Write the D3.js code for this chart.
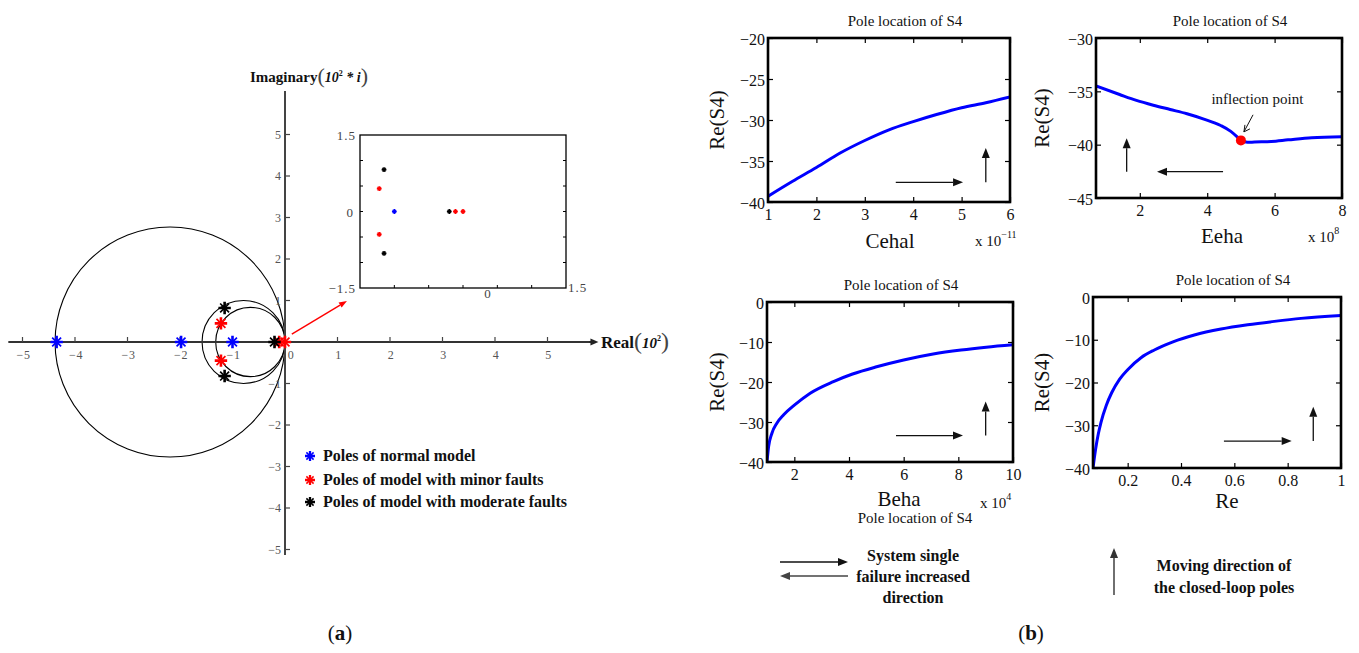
<!DOCTYPE html>
<html>
<head>
<meta charset="utf-8">
<script src="https://cdn.jsdelivr.net/npm/d3@7"></script>
<style>
  body { margin: 0; background: #fff; }
  svg { display: block; }
</style>
</head>
<body>
<script>
// ---- panel (a): pole map, values in units of 10^2 ----
const poleNormal   = [[-4.35, 0], [-1.98, 0], [-1.0, 0]];
const poleMinor    = [[-1.22, 0.45], [-1.22, -0.45], [-0.11, 0], [0, 0]];
const poleModerate = [[-1.15, 0.82], [-1.15, -0.82], [-0.2, 0]];
const circleCenters = [-2.19, -0.79, -0.66];   // on the real axis
const circleRadii   = [2.19, 0.79, 0.66];
const mainTicks  = [-5, -4, -3, -2, -1, 1, 2, 3, 4, 5];
const insetTicks = [-1, -0.5, 0, 0.5, 1];
const legendLabels = ["Poles of normal model", "Poles of model with minor faults", "Poles of model with moderate faults"];
const legendColors = ["#0000ff", "#ff0000", "#000000"];

// ---- panel (b): Re(S4) against each parameter ----
const cehalX = [1, 1.5, 2, 2.5, 3, 3.5, 4, 4.5, 5, 5.5, 6];
const cehalY = [-39.3, -37.5, -35.8, -34.0, -32.5, -31.2, -30.2, -29.3, -28.5, -27.9, -27.2];
const eehaX = [0.7, 1.4, 1.9, 2.4, 2.9, 3.4, 3.9, 4.4, 4.7, 4.9, 5.0, 5.2, 5.4, 5.9, 6.4, 7.1, 8.0];
const eehaY = [-34.5, -35.3, -35.85, -36.3, -36.7, -37.1, -37.6, -38.2, -38.75, -39.3, -39.6, -39.78, -39.75, -39.7, -39.55, -39.35, -39.25];
const inflection = [5.0, -39.6];
const behaX = [1, 1.06, 1.18, 1.36, 1.61, 2, 2.58, 3.43, 4.13, 5.01, 6, 7.08, 8.1, 9.02, 10];
const behaY = [-40, -36.1, -32.8, -30.3, -28.2, -25.8, -22.8, -19.9, -18.0, -16.2, -14.5, -13.0, -12.0, -11.3, -10.7];
const reX = [0.07, 0.08, 0.09, 0.10, 0.12, 0.14, 0.17, 0.20, 0.25, 0.30, 0.37, 0.45, 0.55, 0.65, 0.75, 0.85, 1.0];
const reY = [-40, -35.5, -32.0, -29.3, -25.3, -22.4, -19.2, -17.0, -14.2, -12.4, -10.5, -8.9, -7.5, -6.5, -5.7, -5.0, -4.3];

const W = 1359, H = 653;
const serif = "'Liberation Serif', 'Times New Roman', serif";

const svg = d3.select("body").append("svg")
  .attr("width", W).attr("height", H)
  .style("font-family", serif);

const defs = svg.append("defs");

function plusPath(s) {
  return `M${-s},0H${s}M0,${-s}V${s}`;
}
function crossPath(s) {
  const d = s * 0.72;
  return `M${-d},${-d}L${d},${d}M${-d},${d}L${d},${-d}`;
}
// asterisk marker: bold plus with thinner diagonals
function drawStar(g, data, sx, sy, color, s, w) {
  const m = g.append("g");
  m.selectAll(null).data(data).join("path")
    .attr("d", crossPath(s))
    .attr("transform", d => `translate(${sx(d[0])},${sy(d[1])})`)
    .attr("stroke", color).attr("stroke-width", w * 0.65).attr("fill", "none");
  m.selectAll(null).data(data).join("path")
    .attr("d", plusPath(s))
    .attr("transform", d => `translate(${sx(d[0])},${sy(d[1])})`)
    .attr("stroke", color).attr("stroke-width", w).attr("fill", "none");
}

// filled-head arrow
function arrow(g, x1, y1, x2, y2, color, len = 10, half = 4, width = 1.3) {
  const a = Math.atan2(y2 - y1, x2 - x1);
  const bx = x2 - len * Math.cos(a), by = y2 - len * Math.sin(a);
  g.append("line").attr("x1", x1).attr("y1", y1).attr("x2", bx).attr("y2", by)
    .attr("stroke", color).attr("stroke-width", width);
  const px = -Math.sin(a) * half, py = Math.cos(a) * half;
  g.append("path")
    .attr("d", `M${x2},${y2}L${bx + px},${by + py}L${bx - px},${by - py}Z`)
    .attr("fill", color);
}

// ================= (a) =================
const xa = d3.scaleLinear().domain([-5, 5]).range([22.5, 547.5]);
const ya = d3.scaleLinear().domain([-5, 5]).range([549.5, 134.5]);
const ga = svg.append("g");

// circles (drawn as true circles in pixels)
ga.selectAll("circle.loc").data(circleCenters).join("circle")
  .attr("cx", d => xa(d)).attr("cy", ya(0))
  .attr("r", (d, i) => xa(circleRadii[i]) - xa(0))
  .attr("fill", "none").attr("stroke", "#000").attr("stroke-width", 1.1);

// axes
ga.append("line").attr("x1", xa(-5.27)).attr("x2", xa(5.9)).attr("y1", ya(0)).attr("y2", ya(0))
  .attr("stroke", "#333").attr("stroke-width", 2);
arrow(ga, xa(5.8), ya(0), xa(5.97), ya(0), "#222", 8, 3.5, 2);
ga.append("line").attr("x1", xa(0)).attr("x2", xa(0)).attr("y1", ya(6.05)).attr("y2", ya(-5.13))
  .attr("stroke", "#444").attr("stroke-width", 2);

ga.selectAll("line.xt").data(mainTicks).join("line")
  .attr("x1", d => xa(d)).attr("x2", d => xa(d)).attr("y1", ya(0)).attr("y2", ya(0) - 5)
  .attr("stroke", "#444").attr("stroke-width", 1.2);
ga.selectAll("line.yt").data(mainTicks).join("line")
  .attr("x1", xa(0)).attr("x2", xa(0) + 5).attr("y1", d => ya(d)).attr("y2", d => ya(d))
  .attr("stroke", "#444").attr("stroke-width", 1.2);

const fmtA = d3.format("~g");
ga.selectAll("text.xl").data(mainTicks.concat([0])).join("text")
  .attr("x", d => xa(d) + (d === 0 ? 6 : 1)).attr("y", ya(0) + 17)
  .attr("text-anchor", "middle").attr("font-size", 12).attr("fill", "#555")
  .attr("letter-spacing", 0.5)
  .text(d => fmtA(d));
ga.selectAll("text.yl").data(mainTicks).join("text")
  .attr("x", xa(0) - 4).attr("y", d => ya(d) + 4)
  .attr("text-anchor", "end").attr("font-size", 12).attr("fill", "#555")
  .text(d => fmtA(d));

// axis titles
const imag = ga.append("text").attr("x", 250).attr("y", 82).attr("font-size", 15).attr("fill", "#111");
imag.append("tspan").attr("font-weight", "bold").text("Imaginary");
imag.append("tspan").attr("font-size", 22).attr("dy", 1).attr("fill", "#444").text("(");
imag.append("tspan").attr("font-weight", "bold").attr("font-style", "italic").attr("font-size", 14).attr("dy", -1).text("10");
imag.append("tspan").attr("font-weight", "bold").attr("font-size", 8).attr("dy", -6).text("2");
imag.append("tspan").attr("font-weight", "bold").attr("font-style", "italic").attr("font-size", 14).attr("dy", 6).text(" * i");
imag.append("tspan").attr("font-size", 22).attr("dy", 1).attr("fill", "#444").text(")");

const real = ga.append("text").attr("x", 601).attr("y", 348).attr("font-size", 17).attr("fill", "#111");
real.append("tspan").attr("font-weight", "bold").text("Real");
real.append("tspan").attr("font-size", 24).attr("dy", 1).attr("fill", "#444").text("(");
real.append("tspan").attr("font-weight", "bold").attr("font-style", "italic").attr("font-size", 15).attr("dy", -1).text("10");
real.append("tspan").attr("font-weight", "bold").attr("font-size", 8).attr("dy", -7).text("2");
real.append("tspan").attr("font-size", 24).attr("dy", 8).attr("fill", "#444").text(")");

// poles
const poleSets = [poleNormal, poleMinor, poleModerate];
poleSets.forEach((set, i) => drawStar(ga, set, xa, ya, legendColors[i], 6.2, 2.6));

// red pointer to the inset
arrow(ga, xa(0.13), ya(0.19), xa(1.18), ya(0.99), "#ff0000", 8, 3, 1.4);

// inset
const xi = d3.scaleLinear().domain([-1.5, 1.5]).range([360, 566]);
const yi = d3.scaleLinear().domain([-1.5, 1.5]).range([288, 135]);
const gi = svg.append("g");
gi.append("rect").attr("x", xi(-1.5)).attr("y", yi(1.5))
  .attr("width", xi(1.5) - xi(-1.5)).attr("height", yi(-1.5) - yi(1.5))
  .attr("fill", "#fff").attr("stroke", "#000").attr("stroke-width", 1.3);
gi.selectAll("line.bt").data(insetTicks).join("line")
  .attr("x1", d => xi(d)).attr("x2", d => xi(d)).attr("y1", yi(-1.5)).attr("y2", yi(-1.5) - 3)
  .attr("stroke", "#000");
gi.selectAll("line.lt").data(insetTicks).join("line")
  .attr("x1", xi(-1.5)).attr("x2", xi(-1.5) + 3).attr("y1", d => yi(d)).attr("y2", d => yi(d))
  .attr("stroke", "#000");
gi.selectAll("line.rt").data(insetTicks).join("line")
  .attr("x1", xi(1.5)).attr("x2", xi(1.5) - 3).attr("y1", d => yi(d)).attr("y2", d => yi(d))
  .attr("stroke", "#000");
const insetLab = [
  { x: xi(-1.5) - 4, y: yi(1.5) + 5, a: "end", t: "1.5" },
  { x: xi(-1.5) - 6, y: yi(0) + 5, a: "end", t: "0" },
  { x: xi(-1.5) - 4, y: yi(-1.5) + 5, a: "end", t: "\u22121.5" },
  { x: xi(0) + 25, y: yi(-1.5) + 10, a: "middle", t: "0" },
  { x: xi(1.5) + 2, y: yi(-1.5) + 4, a: "start", t: "1.5" }
];
gi.selectAll("text").data(insetLab).join("text")
  .attr("x", d => d.x).attr("y", d => d.y).attr("text-anchor", d => d.a)
  .attr("font-size", 13).attr("letter-spacing", 1).attr("fill", "#444").text(d => d.t);
poleSets.forEach((set, i) =>
  drawStar(gi, set.filter(d => Math.abs(d[0]) <= 1.5), xi, yi, legendColors[i], 2.4, 1.7));

// legend
const leg = svg.append("g").attr("transform", "translate(310,456)");
legendLabels.forEach((lab, i) => {
  const row = leg.append("g").attr("transform", `translate(0,${[0, 24, 46][i]})`);
  drawStar(row, [[0, 0]], v => v, v => v, legendColors[i], 5, 2.3);
  row.append("text").attr("x", 13).attr("y", 5).attr("font-size", 16)
    .attr("font-weight", "bold").attr("fill", "#111").text(lab);
});

// ================= (b) =================
const panels = [
  { xs: cehalX, ys: cehalY, x0: 768, x1: 1010, y0: 38, y1: 202, xd: [1, 6], yd: [-40, -20],
    xt: [1, 2, 3, 4, 5, 6], yt: [-40, -35, -30, -25, -20], title: [905, 26], ylab: 717,
    xlab: ["Cehal", 890, 248], exp: ["\u221211", 975, 246],
    arrows: [[3.64, -37.6, 5.03, -37.6], [5.5, -37.6, 5.5, -33.4]] },
  { xs: eehaX, ys: eehaY, x0: 1096, x1: 1342, y0: 38, y1: 198, xd: [0.7, 8], yd: [-45, -30],
    xt: [2, 4, 6, 8], yt: [-45, -40, -35, -30], title: [1230, 26], ylab: 1042,
    xlab: ["Eeha", 1222, 243], exp: ["8", 1308, 242],
    arrows: [[1.61, -42.53, 1.61, -39.4], [4.47, -42.53, 2.51, -42.53]] },
  { xs: behaX, ys: behaY, x0: 767, x1: 1013, y0: 302, y1: 462, xd: [1, 10], yd: [-40, 0],
    xt: [2, 4, 6, 8, 10], yt: [-40, -30, -20, -10, 0], title: [901, 290], ylab: 717,
    xlab: ["Beha", 899, 506], exp: ["4", 980, 508],
    arrows: [[5.72, -33.4, 8.17, -33.4], [9.0, -33.4, 9.0, -24.9]] },
  { xs: reX, ys: reY, x0: 1093, x1: 1341, y0: 297, y1: 468, xd: [0.07, 1], yd: [-40, 0],
    xt: [0.2, 0.4, 0.6, 0.8, 1], yt: [-40, -30, -20, -10, 0], title: [1233, 285], ylab: 1042,
    xlab: ["Re", 1227, 508], exp: null,
    arrows: [[0.561, -33.7, 0.815, -33.7], [0.896, -33.7, 0.896, -25.7]] }
];

const fmt = d3.format("~g");

panels.forEach((p, k) => {
  const x = d3.scaleLinear().domain(p.xd).range([p.x0, p.x1]);
  const y = d3.scaleLinear().domain(p.yd).range([p.y1, p.y0]);
  const g = svg.append("g");

  const axB = g.append("g").attr("transform", `translate(0,${p.y1})`)
    .call(d3.axisBottom(x).tickValues(p.xt).tickSize(-5).tickSizeOuter(0).tickPadding(7).tickFormat(fmt));
  const axT = g.append("g").attr("transform", `translate(0,${p.y0})`)
    .call(d3.axisTop(x).tickValues(p.xt).tickSize(-5).tickSizeOuter(0).tickFormat(""));
  const axL = g.append("g").attr("transform", `translate(${p.x0},0)`)
    .call(d3.axisLeft(y).tickValues(p.yt).tickSize(-5).tickSizeOuter(0).tickPadding(3).tickFormat(fmt));
  const axR = g.append("g").attr("transform", `translate(${p.x1},0)`)
    .call(d3.axisRight(y).tickValues(p.yt).tickSize(-5).tickSizeOuter(0).tickFormat(""));
  [axB, axT, axL, axR].forEach(a => {
    a.select(".domain").remove();
    a.attr("font-family", serif).attr("font-size", 16);
    a.selectAll(".tick line").attr("stroke", "#000").attr("stroke-width", 1.2);
    a.selectAll(".tick text").attr("fill", "#111");
  });
  axL.selectAll(".tick text").attr("dy", "0.38em");

  defs.append("clipPath").attr("id", "clip" + k).append("rect")
    .attr("x", p.x0).attr("y", p.y0).attr("width", p.x1 - p.x0).attr("height", p.y1 - p.y0);

  const line = d3.line().x(d => x(d[0])).y(d => y(d[1])).curve(d3.curveMonotoneX);
  g.append("path").datum(p.xs.map((v, i) => [v, p.ys[i]]))
    .attr("d", line).attr("clip-path", `url(#clip${k})`)
    .attr("fill", "none").attr("stroke", "#0000ff").attr("stroke-width", 3);

  g.append("rect").attr("x", p.x0).attr("y", p.y0)
    .attr("width", p.x1 - p.x0).attr("height", p.y1 - p.y0)
    .attr("fill", "none").attr("stroke", "#000").attr("stroke-width", 2.6);

  p.arrows.forEach(a => arrow(g, x(a[0]), y(a[1]), x(a[2]), y(a[3]), "#111", 10, 4, 1.3));

  g.append("text").attr("x", p.title[0]).attr("y", p.title[1]).attr("text-anchor", "middle")
    .attr("font-size", 15).attr("fill", "#111").text("Pole location of S4");
  g.append("text").attr("transform", `translate(${p.ylab},${(p.y0 + p.y1) / 2}) rotate(-90)`)
    .attr("text-anchor", "middle").attr("dy", "0.35em").attr("font-size", 21).attr("fill", "#111")
    .text("Re(S4)");
  g.append("text").attr("x", p.xlab[1]).attr("y", p.xlab[2]).attr("text-anchor", "middle")
    .attr("font-size", 21).attr("fill", "#111").text(p.xlab[0]);
  if (p.exp) {
    const e = g.append("text").attr("x", p.exp[1]).attr("y", p.exp[2])
      .attr("font-size", 15).attr("fill", "#111");
    e.append("tspan").text("x 10");
    e.append("tspan").attr("font-size", 10).attr("dy", -8).text(p.exp[0]);
  }

  if (k === 1) {
    g.append("circle").attr("cx", x(inflection[0])).attr("cy", y(inflection[1])).attr("r", 5)
      .attr("fill", "#ff0000");
    g.append("text").attr("x", x(5.49)).attr("y", y(-36.2)).attr("text-anchor", "middle")
      .attr("font-size", 15).attr("fill", "#111").text("inflection point");
    const ax1 = x(5.36), ay1 = y(-37.2), ax2 = x(5.09), ay2 = y(-38.8);
    g.append("line").attr("x1", ax1).attr("y1", ay1).attr("x2", ax2).attr("y2", ay2)
      .attr("stroke", "#111").attr("stroke-width", 1);
    g.append("path").attr("d", `M${ax2 + 1},${ay2 - 7}L${ax2},${ay2}L${ax2 + 6},${ay2 - 3}`)
      .attr("fill", "none").attr("stroke", "#111").attr("stroke-width", 1);
  }
});

// extra title under the lower-left plot
svg.append("text").attr("x", 915).attr("y", 523).attr("text-anchor", "middle")
  .attr("font-size", 15).attr("fill", "#111").text("Pole location of S4");

// bottom key of (b)
const key = svg.append("g");
arrow(key, 780, 562, 848, 562, "#111", 10, 4, 1.3);
arrow(key, 848, 576, 780, 576, "#444", 10, 4, 1.6);
key.selectAll("text.l").data(["System single", "failure increased", "direction"]).join("text")
  .attr("x", 913).attr("y", (d, i) => 561 + i * 21).attr("text-anchor", "middle")
  .attr("font-size", 16).attr("font-weight", "bold").attr("fill", "#111").text(d => d);
arrow(key, 1114, 595, 1114, 548, "#333", 10, 4, 1.4);
key.selectAll("text.r").data(["Moving direction of", "the closed-loop poles"]).join("text")
  .attr("x", 1224).attr("y", (d, i) => 571 + i * 22).attr("text-anchor", "middle")
  .attr("font-size", 16).attr("font-weight", "bold").attr("fill", "#111").text(d => d);

// sub-figure captions
[["a", 340], ["b", 1031]].forEach(([c, cx]) => {
  const t = svg.append("text").attr("x", cx).attr("y", 640).attr("text-anchor", "middle")
    .attr("font-size", 21).attr("fill", "#111");
  t.append("tspan").text("(");
  t.append("tspan").attr("font-weight", "bold").text(c);
  t.append("tspan").text(")");
});
</script>
</body>
</html>
